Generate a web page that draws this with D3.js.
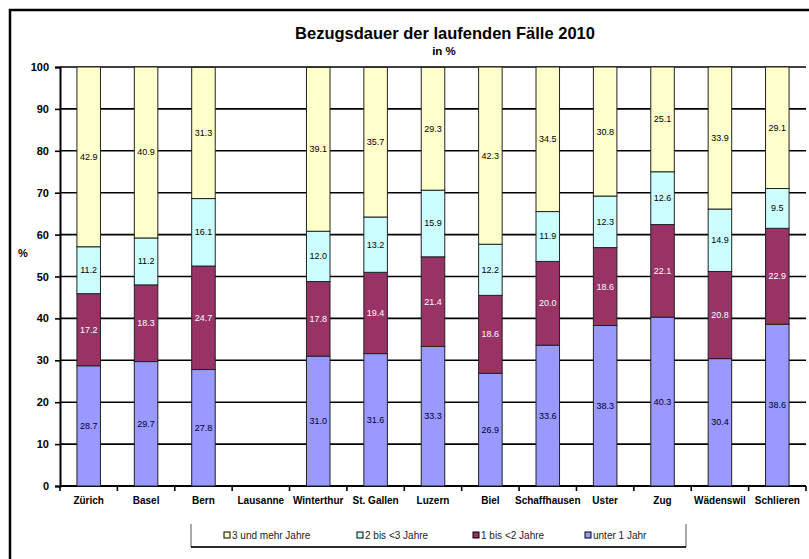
<!DOCTYPE html>
<html><head><meta charset="utf-8">
<script src="https://cdn.jsdelivr.net/npm/d3@7/dist/d3.min.js"></script>
<style>
html,body{margin:0;padding:0;background:#fff;}
svg{display:block;font-family:"Liberation Sans",Arial,sans-serif;}
</style></head>
<body>
<svg id="chart" width="809" height="559"></svg>
<script>
const categories = ["Zürich","Basel","Bern","Lausanne","Winterthur","St. Gallen","Luzern","Biel","Schaffhausen","Uster","Zug","Wädenswil","Schlieren"];
const seriesNames = ["unter 1 Jahr","1 bis <2 Jahre","2 bis <3 Jahre","3 und mehr Jahre"];
const under1   = [28.7, 29.7, 27.8, null, 31.0, 31.6, 33.3, 26.9, 33.6, 38.3, 40.3, 30.4, 38.6];
const oneToTwo = [17.2, 18.3, 24.7, null, 17.8, 19.4, 21.4, 18.6, 20.0, 18.6, 22.1, 20.8, 22.9];
const twoToThree = [11.2, 11.2, 16.1, null, 12.0, 13.2, 15.9, 12.2, 11.9, 12.3, 12.6, 14.9, 9.5];
const threePlus  = [42.9, 40.9, 31.3, null, 39.1, 35.7, 29.3, 42.3, 34.5, 30.8, 25.1, 33.9, 29.1];
const yTicks = [0,10,20,30,40,50,60,70,80,90,100];
const title = "Bezugsdauer der laufenden Fälle 2010";
const subtitle = "in %";
const yLabel = "%";

const colors = ["#9999FF","#993366","#CCFFFF","#FFFFCC"];
const labelColors = ["#000033","#ffffff","#000000","#000000"];
const seriesData = [under1, oneToTwo, twoToThree, threePlus];

const svg = d3.select("#chart");
const pL = 60, pR = 806, pT = 67, pB = 486;

const x = d3.scaleBand().domain(categories).range([pL, pR]).padding(0);
const y = d3.scaleLinear().domain([0,100]).range([pB, pT]).clamp(true);

// outer frame
svg.append("path").attr("d", `M10,559 V10 H809`).attr("fill","none").attr("stroke","#000").attr("stroke-width",2.5);

// title
svg.append("text").attr("x",445).attr("y",39).attr("text-anchor","middle")
  .attr("font-size","16.5px").attr("font-weight","bold").attr("fill","#000").text(title);
svg.append("text").attr("x",444).attr("y",55).attr("text-anchor","middle")
  .attr("font-size","11.5px").attr("font-weight","bold").attr("fill","#000").text(subtitle);

// gridlines
svg.append("g").selectAll("line").data(yTicks).join("line")
  .attr("x1",pL).attr("x2",pR).attr("y1",d=>y(d)).attr("y2",d=>y(d))
  .attr("stroke","#000").attr("stroke-width",1.6);

// y axis
const yAxis = d3.axisLeft(y).tickValues(yTicks).tickSize(5).tickPadding(6).tickFormat(d3.format("d"));
const gy = svg.append("g").attr("transform",`translate(${pL},0)`).call(yAxis);
gy.select(".domain").attr("stroke","#000").attr("stroke-width",2);
gy.selectAll(".tick line").attr("stroke","#000").attr("stroke-width",1.6);
gy.selectAll(".tick text").attr("font-size","11px").attr("font-weight","bold").attr("fill","#000")
  .attr("font-family","'Liberation Sans',Arial,sans-serif");

svg.append("text").attr("x",23).attr("y",257).attr("text-anchor","middle")
  .attr("font-size","11px").attr("font-weight","bold").text(yLabel);

// x axis
const gx = svg.append("g").attr("transform",`translate(0,${pB})`);
gx.append("line").attr("x1",pL).attr("x2",pR).attr("stroke","#000").attr("stroke-width",2);
const bounds = d3.range(categories.length+1).map(i => pL + i*x.step());
gx.selectAll("line.tk").data(bounds).join("line").attr("class","tk")
  .attr("x1",d=>d).attr("x2",d=>d).attr("y1",0).attr("y2",5).attr("stroke","#000").attr("stroke-width",1.6);
gx.selectAll("text").data(categories).join("text")
  .attr("x",d=>x(d)+x.bandwidth()/2).attr("y",18).attr("text-anchor","middle")
  .attr("font-size","10px").attr("font-weight","bold").attr("fill","#000").text(d=>d);

// stacked bars
const barW = x.bandwidth()*0.41;
const gb = svg.append("g");
categories.forEach((c,i)=>{
  let base = 0;
  seriesData.forEach((s,k)=>{
    const v = s[i];
    if (v == null) return;
    const y0 = base, y1 = base + v;
    base = y1;
    const cx = x(c)+x.bandwidth()/2;
    gb.append("rect").attr("x",cx-barW/2).attr("width",barW)
      .attr("y",y(y1)).attr("height",y(y0)-y(y1))
      .attr("fill",colors[k]).attr("stroke","#222").attr("stroke-width",1);
    gb.append("text").attr("x",cx).attr("y",(y(y0)+y(y1))/2+3)
      .attr("text-anchor","middle").attr("font-size","9px").attr("fill",labelColors[k])
      .text(d3.format(".1f")(v));
  });
});

// legend
const lg = svg.append("g");
lg.append("path").attr("d","M191,524 V547 H686 V524").attr("fill","none").attr("stroke","#555").attr("stroke-width",1);
lg.append("line").attr("x1",191).attr("x2",686).attr("y1",547).attr("y2",547).attr("stroke","#000").attr("stroke-width",1.5);
const legendOrder = [3,2,1,0];
const legendX = [224,357,473,585];
legendOrder.forEach((k,j)=>{
  lg.append("rect").attr("x",legendX[j]).attr("y",532).attr("width",6).attr("height",6)
    .attr("fill",colors[k]).attr("stroke","#000").attr("stroke-width",1);
  lg.append("text").attr("x",legendX[j]+8).attr("y",539).attr("font-size","10px").attr("fill","#222")
    .text(seriesNames[k]);
});
</script>
</body></html>
